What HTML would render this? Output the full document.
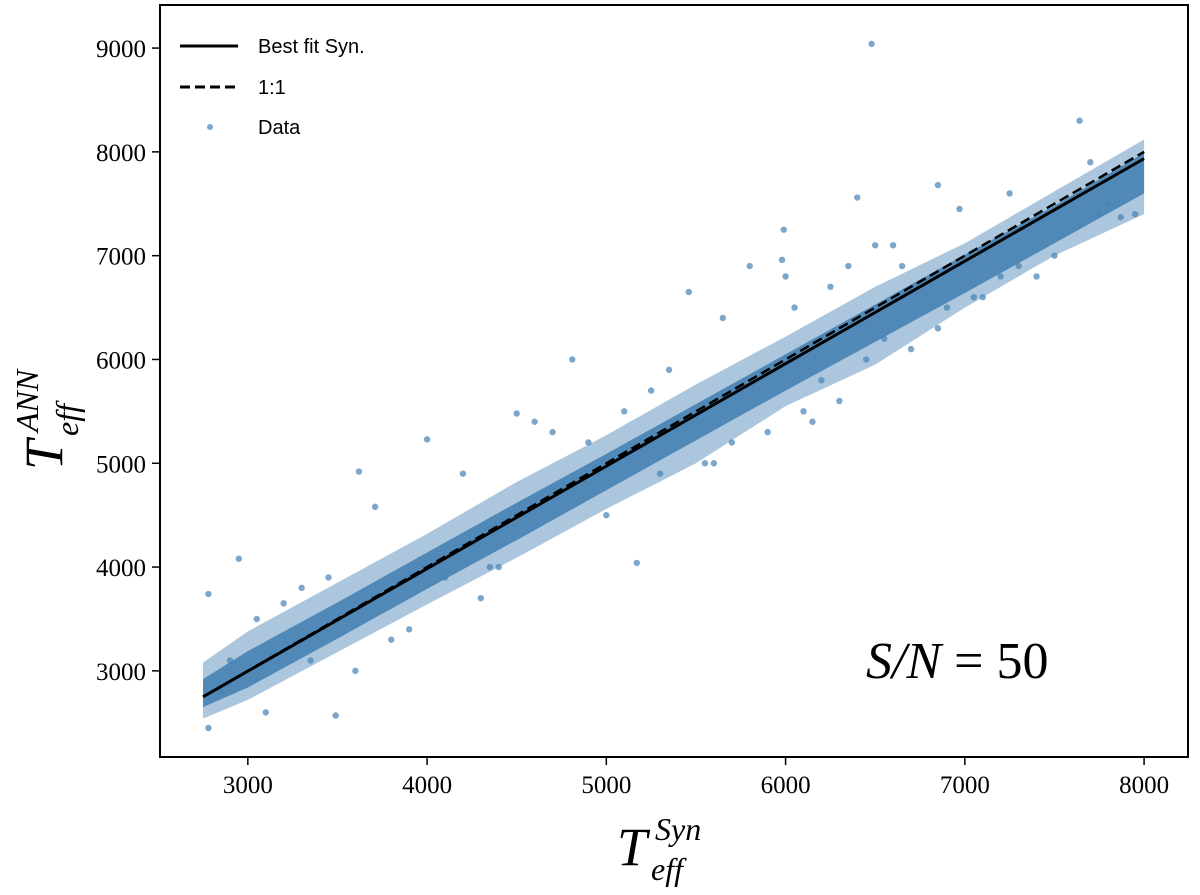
<!DOCTYPE html>
<html><head><meta charset="utf-8"><style>
body{margin:0;background:#fff;}
svg text{font-family:"Liberation Serif",serif;}
</style></head><body>
<svg width="1200" height="890" viewBox="0 0 1200 890" id="chart">
<g id="plot"></g>
<g id="axes"></g>
</svg>
<script>
const bandX=[2750,3000,3500,4000,4500,5000,5500,6000,6500,7000,7500,8000];
const coreLo=[2650,2840,3310,3790,4260,4740,5220,5700,6170,6640,7120,7600];
const coreHi=[2920,3190,3660,4140,4620,5090,5570,6050,6530,7010,7480,7990];
const outerLo=[2540,2720,3180,3640,4090,4560,5000,5550,5950,6500,7000,7400];
const outerHi=[3080,3380,3850,4320,4820,5270,5760,6220,6700,7120,7620,8120];
const outX=[6480,7640,6400,6850,5980,5990,4000,3620,2950,2780,3490,5170,4500,4810,5460,3710,6600,6970,7870,7750,6200,6100,5000,4300,3600,2780,7500,7200,6300,5800,6000,4200,4600,3300,3200,7400,5900,5600,6700,6500,3900,4400,5300,6900,7100,2850,3100,4700,5100,5350,5650,6150,6250,6350,6850,7300,7950,3450,3800,4100,4900,5700,6050,6450,7050,7700,3050,3350,4350,5250,5550,6550,6650,7250,7800,2900];
const outY=[9040,8300,7560,7680,6960,7250,5230,4920,4080,3740,2570,4040,5480,6000,6650,4580,7100,7450,7370,7400,5800,5500,4500,3700,3000,2450,7000,6800,5600,6900,6800,4900,5400,3800,3650,6800,5300,5000,6100,7100,3400,4000,4900,6500,6600,2800,2600,5300,5500,5900,6400,5400,6700,6900,6300,6900,7400,3900,3300,3900,5200,5200,6500,6000,6600,7900,3500,3100,4000,5700,5000,6200,6900,7600,7500,3100];
const fitX=[2750,8000], fitY=[2750,7935];
const oneX=[2750,8000], oneY=[2750,8000];
const xTicks=[3000,4000,5000,6000,7000,8000];
const yTicks=[3000,4000,5000,6000,7000,8000,9000];
const L=160,R=1188,T=5,B=757;
const xmin=2510,xmax=8245,ymin=2170,ymax=9415;
const sx=v=>L+(v-xmin)/(xmax-xmin)*(R-L);
const sy=v=>B-(v-ymin)/(ymax-ymin)*(B-T);
const NS="http://www.w3.org/2000/svg";
const plot=document.getElementById('plot'),axes=document.getElementById('axes');
function mk(tag,attrs,parent){const e=document.createElementNS(NS,tag);for(const k in attrs)e.setAttribute(k,attrs[k]);parent.appendChild(e);return e;}
function area(lo,hi,op,name){
 let d='M'+bandX.map((x,i)=>sx(x)+','+sy(hi[i])).join('L');
 d+='L'+bandX.map((x,i)=>[x,i]).reverse().map(([x,i])=>sx(x)+','+sy(lo[i])).join('L')+'Z';
 const p=mk('path',{d:d,fill:'#4682b4','fill-opacity':op},plot);
 
 
}
area(outerLo,outerHi,0.45,'data-outer-band');
area(coreLo,coreHi,0.9,'data-core-band');
outX.forEach((x,i)=>{
 const c=mk('circle',{cx:sx(x),cy:sy(outY[i]),r:3.2,fill:'#4682b4','fill-opacity':0.7},plot);
 
 
});
const one=mk('line',{x1:sx(oneX[0]),y1:sy(oneY[0]),x2:sx(oneX[1]),y2:sy(oneY[1]),stroke:'#000','stroke-width':2.5,'stroke-dasharray':'10,5'},plot);


const fit=mk('line',{x1:sx(fitX[0]),y1:sy(fitY[0]),x2:sx(fitX[1]),y2:sy(fitY[1]),stroke:'#000','stroke-width':3},plot);


const fr=mk('rect',{x:L,y:T,width:R-L,height:B-T,fill:'none',stroke:'#000','stroke-width':2},axes);


xTicks.forEach(v=>{
 const t=mk('line',{x1:sx(v),x2:sx(v),y1:B,y2:B+8,stroke:'#000','stroke-width':1.5},axes);
 
 
 const tx=mk('text',{x:sx(v),y:B+36,'text-anchor':'middle','font-size':25},axes);tx.textContent=v;
 
 
});
yTicks.forEach(v=>{
 const t=mk('line',{x1:L-8,x2:L,y1:sy(v),y2:sy(v),stroke:'#000','stroke-width':1.5},axes);
 
 
 const tx=mk('text',{x:L-14,y:sy(v)+9,'text-anchor':'end','font-size':25},axes);tx.textContent=v;
 
 
});
</script>
<svg width="1200" height="890" style="position:absolute;left:0;top:0">
<g>
 <line x1="180" y1="46" x2="238" y2="46" stroke="#000" stroke-width="3"/>
 <text x="258" y="53" font-size="20" style="font-family:'Liberation Sans',sans-serif">Best fit Syn.</text>
 <line x1="180" y1="87" x2="238" y2="87" stroke="#000" stroke-width="3" stroke-dasharray="10,5"/>
 <text x="258" y="94" font-size="20" style="font-family:'Liberation Sans',sans-serif">1:1</text>
 <circle cx="210" cy="127" r="3" fill="#4682b4" fill-opacity="0.7"/>
 <text x="258" y="134" font-size="20" style="font-family:'Liberation Sans',sans-serif">Data</text>
</g>
<text x="866" y="678" font-size="52"><tspan font-style="italic">S/N</tspan> = 50</text>
<g>
<text x="617" y="865" font-size="54" font-style="italic">T</text>
<text x="651" y="880" font-size="32" font-style="italic">eff</text>
<text x="655" y="840" font-size="32" font-style="italic">Syn</text>
</g>
<g transform="translate(62,470) rotate(-90)">
<text x="0" y="0" font-size="54" font-style="italic">T</text>
<text x="34" y="16" font-size="32" font-style="italic">eff</text>
<text x="38" y="-24" font-size="32" font-style="italic">ANN</text>
</g>
</svg>
</body></html>
